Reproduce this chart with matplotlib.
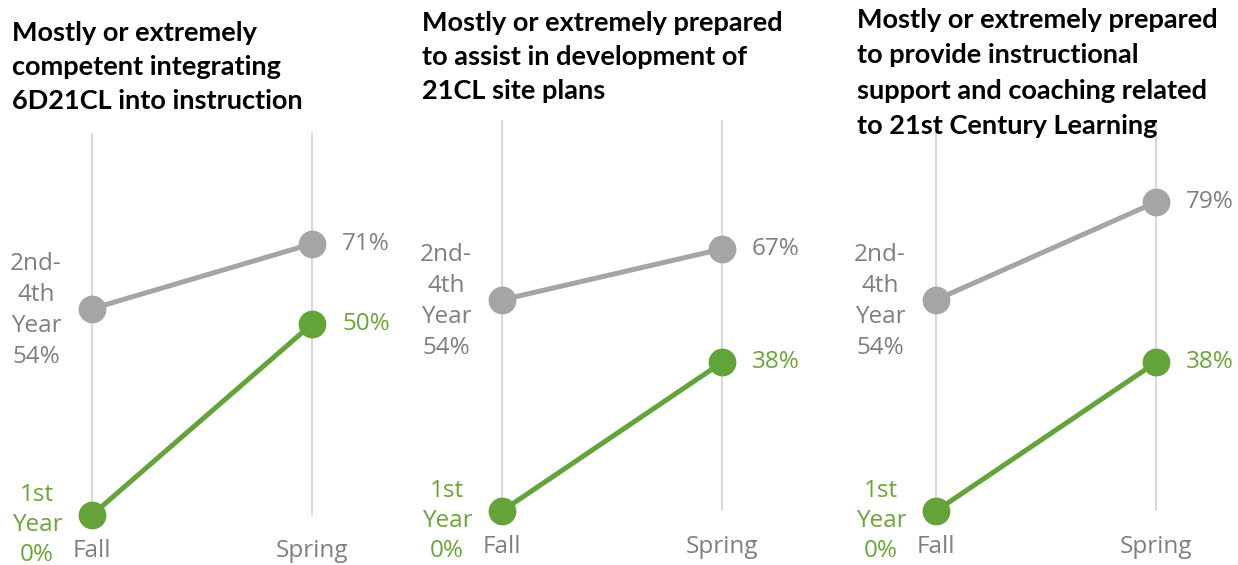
import matplotlib
matplotlib.use("Agg")
import matplotlib.pyplot as plt

# survey results: share answering "mostly" or "extremely", by cohort and season
seasons = ["Fall", "Spring"]
titles = [
    "Mostly or extremely\ncompetent integrating\n6D21CL into instruction",
    "Mostly or extremely prepared\nto assist in development of\n21CL site plans",
    "Mostly or extremely prepared\nto provide instructional\nsupport and coaching related\nto 21st Century Learning",
]
first_year = [[0, 50], [0, 38], [0, 38]]
later_years = [[54, 71], [54, 67], [54, 79]]
first_label = "1st\nYear"
later_label = "2nd-\n4th\nYear"

GREY = "#A5A5A5"
GREY_TXT = "#7F7F7F"
GREEN = "#62A43A"
GREEN_TXT = "#6BA539"
LABEL_FONT = "Open Sans"
LABEL_SIZE = 17.5

W, H = 1238, 565
fig = plt.figure(figsize=(W / 100, H / 100), dpi=100)
fig.patch.set_facecolor("white")

# pixel layout of each panel: x of Fall, y of 0%, y of 100%, title anchor
panels = [
    dict(x0=92, y0=515, y100=133, tx=12, ty=21, ls=1.5),
    dict(x0=502, y0=511, y100=120, tx=422, ty=11, ls=1.5),
    dict(x0=936, y0=511, y100=120, tx=857, ty=8, ls=1.57),
]
step = 220  # pixels between Fall and Spring

for i, p in enumerate(panels):
    left = (p["x0"] - 0.4 * step) / W
    width = 1.8 * step / W
    bottom = (H - p["y0"]) / H
    height = (p["y0"] - p["y100"]) / H
    ax = fig.add_axes([left, bottom, width, height])
    ax.set_xlim(-0.4, 1.4)
    ax.set_ylim(0, 100)
    ax.axis("off")

    x = [0, 1]
    ax.vlines(x, 0, 100, color="#D9D9D9", lw=1.5, zorder=1)

    ax.plot(x, later_years[i], color=GREY, lw=3.6, marker="o", ms=19,
            zorder=3, clip_on=False)
    ax.plot(x, first_year[i], color=GREEN, lw=3.6, marker="o", ms=19,
            zorder=4, clip_on=False)

    # left-hand cohort labels with the Fall value
    ax.annotate(f"{later_label}\n{later_years[i][0]}%", (0, later_years[i][0]),
                xytext=(-56, -2), textcoords="offset pixels", ha="center",
                va="center", multialignment="center", color=GREY_TXT,
                fontsize=LABEL_SIZE, family=LABEL_FONT, linespacing=1.39,
                annotation_clip=False)
    ax.annotate(f"{first_label}\n{first_year[i][0]}%", (0, first_year[i][0]),
                xytext=(-55, -10), textcoords="offset pixels", ha="center",
                va="center", multialignment="center", color=GREEN_TXT,
                fontsize=LABEL_SIZE, family=LABEL_FONT, linespacing=1.36,
                annotation_clip=False)

    # Spring values on the right
    ax.annotate(f"{later_years[i][1]}%", (1, later_years[i][1]),
                xytext=(30, 0), textcoords="offset pixels", ha="left",
                va="center", color=GREY_TXT, fontsize=LABEL_SIZE,
                family=LABEL_FONT, annotation_clip=False)
    ax.annotate(f"{first_year[i][1]}%", (1, first_year[i][1]),
                xytext=(30, 0), textcoords="offset pixels", ha="left",
                va="center", color=GREEN_TXT, fontsize=LABEL_SIZE,
                family=LABEL_FONT, annotation_clip=False)

    # season labels under the gridlines
    for xi, s in zip(x, seasons):
        ax.annotate(s, (xi, 0), xytext=(0, -36), textcoords="offset pixels",
                    ha="center", va="center", color=GREY_TXT,
                    fontsize=LABEL_SIZE, family=LABEL_FONT,
                    annotation_clip=False)

    fig.text(p["tx"] / W, 1 - p["ty"] / H, titles[i], ha="left", va="top",
             fontsize=19.5, fontweight="bold", family="Lato", color="black",
             linespacing=p["ls"])

fig.savefig("out.png", dpi=100)
